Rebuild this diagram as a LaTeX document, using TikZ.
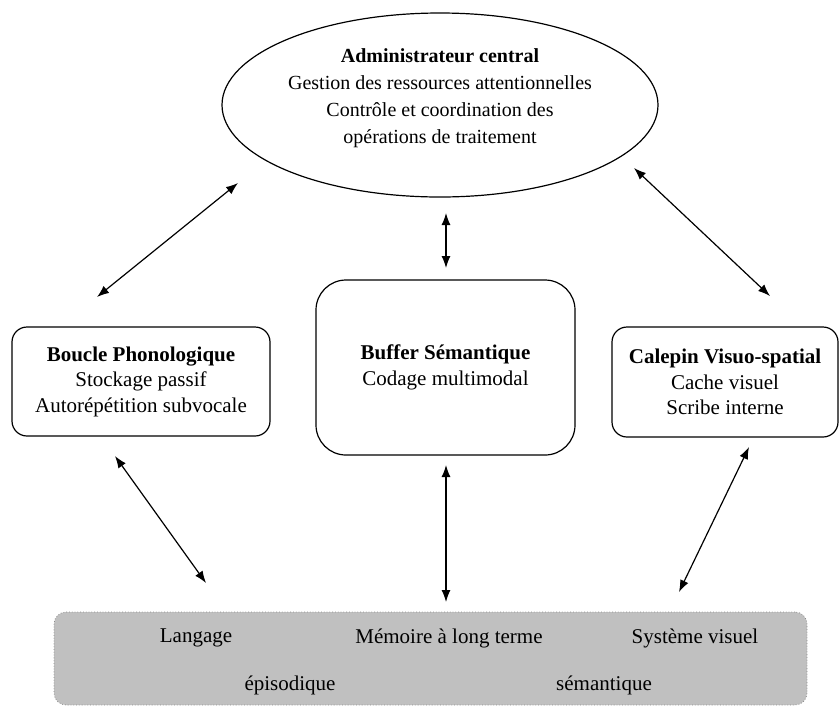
\documentclass[tikz,border=0pt]{standalone}
\usepackage{fontspec}
\setmainfont{Liberation Serif}
\usepackage{tikz}
\usetikzlibrary{shapes.geometric,arrows.meta}
\definecolor{memfill}{RGB}{192,192,192}
\definecolor{memline}{RGB}{140,140,140}
\tikzset{
  composant/.style={draw, rounded corners=7.5pt, align=center, line width=0.6pt,
    font=\fontsize{10.5}{12.75}\selectfont},
  memtxt/.style={font=\fontsize{10.5}{12.75}\selectfont},
  lien/.style={{Latex[length=6pt,width=4.5pt]}-{Latex[length=6pt,width=4.5pt]}, line width=0.6pt},
}

\begin{document}
\begin{tikzpicture}[x=0.5pt,y=-0.5pt]
\useasboundingbox (0,0) rectangle (839,708);

% 中央実行系
\node[draw, ellipse, line width=0.6pt, inner sep=0pt, minimum width=218pt, minimum height=92pt] (admin) at (440,105) {};
\node[align=center, font=\fontsize{10}{13.5}\selectfont] (admintxt) at (440,98)
  {\textbf{Administrateur central}\\Gestion des ressources attentionnelles\\Contrôle et coordination des\\opérations de traitement};

% 従属システム
\node[composant, minimum width=129pt, minimum height=54.5pt] (boucle) at (141,381.5)
  {\textbf{Boucle Phonologique}\\Stockage passif\\Autorépétition subvocale};
\node[composant, rounded corners=15pt, minimum width=129.5pt, minimum height=87.5pt] (buffer) at (445.5,367.5)
  {\textbf{Buffer Sémantique}\\Codage multimodal};
\node[composant, minimum width=113pt, minimum height=55pt] (calepin) at (725,382)
  {\textbf{Calepin Visuo-spatial}\\Cache visuel\\Scribe interne};

% 長期記憶
\node[draw=memline, densely dotted, fill=memfill, rounded corners=6pt, minimum width=376.5pt, minimum height=46.5pt] (mlt) at (430.5,658.5) {};
\node[memtxt] (langage) at (196,638) {Langage};
\node[memtxt] (memoire) at (449,638) {Mémoire à long terme};
\node[memtxt] (systeme) at (695,638) {Système visuel};
\node[memtxt] (episodique) at (290,685) {épisodique};
\node[memtxt] (semantique) at (604,685) {sémantique};

% 矢印
\coordinate (bh) at (97,297);   \coordinate (ag) at (238,183);
\coordinate (ac) at (446,213);  \coordinate (bf) at (446,268);
\coordinate (ad) at (634,168);  \coordinate (ch) at (770,296);
\coordinate (bb) at (115,456);  \coordinate (mg) at (206,583);
\coordinate (fb) at (446,465);  \coordinate (mc) at (446,602);
\coordinate (cb) at (749,447);  \coordinate (md) at (679,592);
\draw[lien] (bh) -- (ag);
\draw[lien] (ac) -- (bf);
\draw[lien] (ad) -- (ch);
\draw[lien] (bb) -- (mg);
\draw[lien] (fb) -- (mc);
\draw[lien] (cb) -- (md);
\end{tikzpicture}
\end{document}
